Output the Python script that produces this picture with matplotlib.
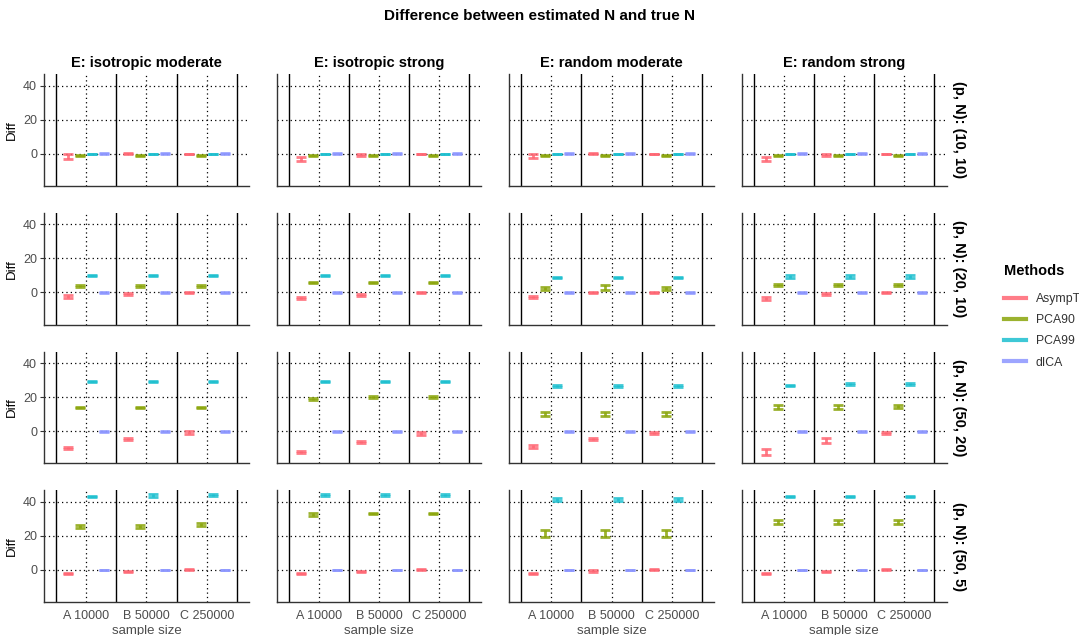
import matplotlib
matplotlib.use("Agg")
import matplotlib.pyplot as plt
from matplotlib.lines import Line2D

plt.rcParams['font.family'] = ['Liberation Sans', 'DejaVu Sans']

# ---------------- data ----------------
title = "Difference between estimated N and true N"
col_labels = ["E: isotropic moderate", "E: isotropic strong", "E: random moderate", "E: random strong"]
row_labels = ["(p, N): (10, 10)", "(p, N): (20, 10)", "(p, N): (50, 20)", "(p, N): (50, 5)"]
groups = ["A 10000", "B 50000", "C 250000"]
methods = ["AsympT", "PCA90", "PCA99", "dICA"]
colors = ["#FF6673", "#8AA50A", "#1CBFCF", "#8C96FF"]

# [row][col][group]
asympt_mean = [
    [[-1.5, 0, 0], [-3, -0.7, 0], [-1.2, 0, 0], [-3, -0.6, 0]],
    [[-2.5, -1, 0], [-3.5, -1.5, 0], [-2.5, 0, 0], [-3.5, -1, 0]],
    [[-10, -4.7, -0.8], [-12.5, -6.3, -1.5], [-9, -4.5, -0.8], [-12, -5.5, -1.2]],
    [[-2, -1, 0], [-2, -1, 0], [-2, -0.7, 0], [-2, -1, 0]],
]
asympt_err = [
    [[1.4, 0.2, 0.1], [1.0, 0.5, 0.1], [1.2, 0.2, 0.1], [1.4, 0.6, 0.1]],
    [[0.8, 0.7, 0.2], [0.6, 0.8, 0.2], [0.6, 0.2, 0.1], [0.7, 0.7, 0.2]],
    [[0.7, 0.7, 0.7], [0.6, 0.7, 0.8], [0.6, 0.6, 0.6], [1.8, 1.3, 0.7]],
    [[0.4, 0.4, 0.3], [0.4, 0.4, 0.3], [0.3, 0.6, 0.3], [0.4, 0.4, 0.3]],
]
pca90_mean = [
    [[-0.8, -0.8, -0.8], [-0.8, -0.8, -0.8], [-0.8, -0.8, -0.8], [-0.8, -0.8, -0.8]],
    [[3.8, 4, 4], [6, 6, 6], [2.5, 3, 2.5], [4.5, 4.5, 4.5]],
    [[14, 14, 14], [19, 20, 20], [10, 10, 10], [14, 14, 14.3]],
    [[25.5, 25.5, 26.5], [32.5, 33, 33], [21.5, 21.5, 21.5], [28, 28, 28]],
]
pca90_err = [
    [[0.3, 0.3, 0.3], [0.3, 0.3, 0.3], [0.3, 0.3, 0.3], [0.3, 0.3, 0.3]],
    [[0.8, 0.5, 0.5], [0.4, 0.4, 0.4], [0.9, 1.5, 0.9], [0.6, 0.7, 0.6]],
    [[0.5, 0.5, 0.5], [0.4, 0.4, 0.4], [1.3, 1.3, 1.3], [1.2, 1.2, 0.8]],
    [[0.8, 0.8, 0.8], [0.8, 0.4, 0.4], [2.0, 2.0, 2.0], [1.3, 1.3, 1.3]],
]
pca99_mean = [
    [[0, 0, 0], [0, 0, 0], [0, 0, 0], [0, 0, 0]],
    [[10, 10, 10], [10, 10, 10], [9, 9, 9], [9.5, 9.5, 9.5]],
    [[29, 29, 29], [29, 29, 29], [26.5, 26.5, 26.5], [27, 27.8, 27.8]],
    [[43, 43.5, 44], [44, 44, 44], [41.5, 41.5, 41.5], [43, 43, 43]],
]
pca99_err = [
    [[0.1, 0.1, 0.1], [0.1, 0.1, 0.1], [0.1, 0.1, 0.1], [0.1, 0.1, 0.1]],
    [[0.4, 0.4, 0.4], [0.4, 0.4, 0.4], [0.3, 0.3, 0.3], [0.7, 0.7, 0.7]],
    [[0.3, 0.3, 0.3], [0.3, 0.3, 0.3], [0.8, 0.8, 0.8], [0.4, 0.8, 0.8]],
    [[0.3, 0.9, 0.4], [0.4, 0.4, 0.4], [0.8, 0.8, 0.8], [0.3, 0.3, 0.3]],
]
dica_mean = [[[0, 0, 0]] * 4 for _ in range(4)]
dica_err = [[[0.2, 0.2, 0.2]] * 4 for _ in range(4)]

means = [asympt_mean, pca90_mean, pca99_mean, dica_mean]
errs = [asympt_err, pca90_err, pca99_err, dica_err]

# ---------------- layout ----------------
W, H = 1079, 635
fig = plt.figure(figsize=(W / 100, H / 100), dpi=100)

ax_left0, col_step, ax_w = 44, 232.5, 205
ax_top0, row_step, ax_h = 74.3, 138.7, 111.5
offsets = [-0.3, -0.1, 0.1, 0.3]
half = 0.083
ylim = (-18.8, 46.7)
txtcol = "#4D4D4D"

for r in range(4):
    for c in range(4):
        left = ax_left0 + col_step * c
        top = ax_top0 + row_step * r
        ax = fig.add_axes([left / W, 1 - (top + ax_h) / H, ax_w / W, ax_h / H])
        ax.set_xlim(0.3, 3.7)
        ax.set_ylim(*ylim)
        for s in ["top", "right"]:
            ax.spines[s].set_visible(False)
        for s in ["left", "bottom"]:
            ax.spines[s].set_color("#333333")
            ax.spines[s].set_linewidth(1.0)
        # grid
        for y in [0, 20, 40]:
            ax.axhline(y, color="black", lw=0.9, ls=(0, (1, 2.5)), zorder=1)
        for x in [1, 2, 3]:
            ax.axvline(x, color="black", lw=0.9, ls=(0, (1, 2.5)), zorder=1)
        for x in [0.5, 1.5, 2.5, 3.5]:
            ax.axvline(x, color="black", lw=1.0, zorder=1)
        # error bars
        for m in range(4):
            for g in range(3):
                mu = means[m][r][c][g]
                e = errs[m][r][c][g]
                x = g + 1 + offsets[m]
                lo, hi = mu - e, mu + e
                kw = dict(color=colors[m], lw=2.0, alpha=0.85, zorder=3)
                ax.hlines([lo, hi], x - half, x + half, **kw)
                ax.vlines(x, lo, hi, **kw)
        ax.set_yticks([0, 20, 40])
        ax.set_xticks([1, 2, 3])
        ax.tick_params(axis="y", length=3, color="#333333", labelsize=9, labelcolor=txtcol, pad=2)
        ax.tick_params(axis="x", length=0, labelsize=9, labelcolor=txtcol, pad=6)
        if c == 0:
            ax.set_ylabel("Diff", fontsize=9.5, color="black", labelpad=4)
        else:
            ax.set_yticklabels([])
            ax.tick_params(axis="y", length=0)
        if r == 3:
            ax.set_xticklabels(groups)
            ax.set_xlabel("sample size", fontsize=9.5, color=txtcol, labelpad=2)
        else:
            ax.set_xticklabels([])
        if r == 0:
            ax.set_title(col_labels[c], fontsize=10.5, fontweight="bold", pad=5)
        if c == 3:
            ax.text(1.06, 0.5, row_labels[r], transform=ax.transAxes, rotation=-90,
                    ha="center", va="center", fontsize=10.5, fontweight="bold")

fig.text(0.5, 1 - 16 / H, title, ha="center", va="center", fontsize=11, fontweight="bold")

# legend
handles = [Line2D([0], [0], color=colors[m], lw=3, alpha=0.85) for m in range(4)]
leg = fig.legend(handles, methods, title="Methods", loc="upper left",
                 bbox_to_anchor=(993 / W, 1 - 253 / H), frameon=False,
                 fontsize=8.8, title_fontsize=10.5, handlelength=1.8, labelspacing=0.75,
                 handletextpad=0.8)
leg.get_title().set_fontweight("bold")
leg._legend_box.align = "left"
leg._legend_box.sep = leg._legend_box.sep + 4.3
for t in leg.get_texts():
    t.set_color("#333333")

fig.savefig("out.png", dpi=100)
